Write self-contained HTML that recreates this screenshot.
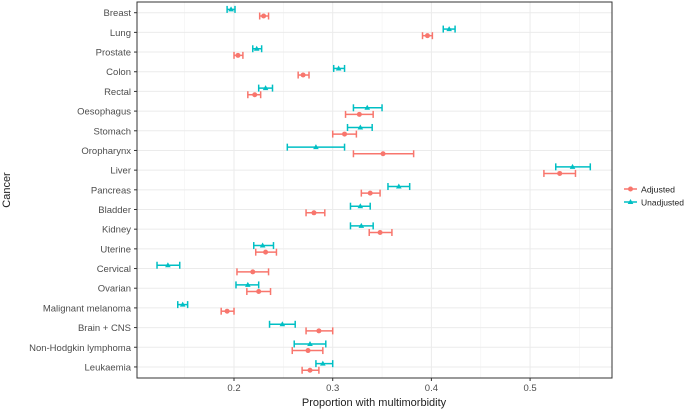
<!DOCTYPE html>
<html><head><meta charset="utf-8"><style>
html,body{margin:0;padding:0;background:#fff;}
svg{display:block;font-family:"Liberation Sans",Arial,sans-serif;}
</style></head><body>
<svg id="chart" width="685" height="412">
<g id="grid"></g>
<g id="marks"></g>
<g id="axes"></g>
<rect x="137" y="2" width="475" height="376" fill="none" stroke="#333" stroke-width="1"/>
<text x="374" y="406" font-size="11" text-anchor="middle" fill="#222">Proportion with multimorbidity</text>
<text x="0" y="0" font-size="11" text-anchor="middle" fill="#222" transform="translate(10,190) rotate(-90)">Cancer</text>
<g>
<line x1="624" y1="189" x2="637" y2="189" stroke="#F8766D" stroke-width="1.5"/><circle cx="630.5" cy="189" r="2.5" fill="#F8766D"/>
<text x="641" y="192.5" font-size="8.5" fill="#222" textLength="34" lengthAdjust="spacingAndGlyphs">Adjusted</text></g>
<g>
<line x1="624" y1="202" x2="637" y2="202" stroke="#00BFC4" stroke-width="1.5"/><path d="M630.5,199 L633.3,204 L627.7,204 Z" fill="#00BFC4"/>
<text x="641" y="205.5" font-size="8.5" fill="#222" textLength="43" lengthAdjust="spacingAndGlyphs">Unadjusted</text></g>
</svg>
<script>
const categories=["Breast","Lung","Prostate","Colon","Rectal","Oesophagus","Stomach","Oropharynx","Liver","Pancreas","Bladder","Kidney","Uterine","Cervical","Ovarian","Malignant melanoma","Brain + CNS","Non-Hodgkin lymphoma","Leukaemia"];
const unadjEst=[0.197,0.418,0.223,0.306,0.232,0.335,0.328,0.283,0.543,0.367,0.328,0.329,0.229,0.133,0.214,0.148,0.249,0.277,0.290];
const unadjLo=[0.193,0.412,0.219,0.301,0.225,0.321,0.315,0.254,0.526,0.356,0.318,0.318,0.220,0.122,0.202,0.143,0.236,0.261,0.283];
const unadjHi=[0.201,0.424,0.228,0.312,0.239,0.350,0.340,0.312,0.561,0.378,0.338,0.341,0.240,0.145,0.225,0.153,0.262,0.293,0.300];
const adjEst=[0.230,0.396,0.204,0.270,0.221,0.327,0.312,0.351,0.530,0.338,0.281,0.348,0.232,0.219,0.225,0.193,0.286,0.275,0.277];
const adjLo=[0.226,0.391,0.200,0.265,0.214,0.313,0.300,0.321,0.514,0.329,0.273,0.337,0.222,0.203,0.213,0.187,0.273,0.259,0.269];
const adjHi=[0.235,0.401,0.209,0.276,0.227,0.341,0.324,0.382,0.546,0.348,0.292,0.360,0.243,0.235,0.237,0.200,0.300,0.290,0.286];
const xTicks=[0.2,0.3,0.4,0.5];
const xMinor=[0.15,0.25,0.35,0.45,0.55];
const NS="http://www.w3.org/2000/svg";
const L=137,R=612,T=2,B=378,X0=0.1017,X1=0.5830;
function xs(v){return L+(v-X0)/(X1-X0)*(R-L);}
function ys(i){return 12.7+i*19.68;}
function mk(tag,attrs,parent){const e=document.createElementNS(NS,tag);for(const k in attrs)e.setAttribute(k,attrs[k]);parent.appendChild(e);return e;}
const grid=document.getElementById('grid'),marks=document.getElementById('marks'),axes=document.getElementById('axes');
xMinor.forEach(v=>{const x=xs(v);if(x>L&&x<R){const l=mk('line',{x1:x,x2:x,y1:T,y2:B,stroke:'#f2f2f2','stroke-width':0.6},grid);

}});
xTicks.forEach(v=>{const x=xs(v);const l=mk('line',{x1:x,x2:x,y1:T,y2:B,stroke:'#ebebeb','stroke-width':1},grid);


const t=mk('line',{x1:x,x2:x,y1:B,y2:B+3,stroke:'#333'},axes);


const tx=mk('text',{x:x,y:B+13,'font-size':9.5,'text-anchor':'middle',fill:'#4d4d4d'},axes);tx.textContent=v.toFixed(1);

});
categories.forEach((c,i)=>{const y=ys(i);
const g=mk('line',{x1:L,x2:R,y1:y,y2:y,stroke:'#ebebeb','stroke-width':1},grid);


const t=mk('line',{x1:L-3,x2:L,y1:y,y2:y,stroke:'#333'},axes);


const tx=mk('text',{x:L-6,y:y+3.5,'font-size':9.5,'text-anchor':'end',fill:'#4d4d4d'},axes);tx.textContent=c;

});
function series(est,lo,hi,col,dy,shape,name){
est.forEach((v,i)=>{const y=ys(i)+dy;const g=mk('g',{},marks);


const a=xs(lo[i]),b=xs(hi[i]);
mk('line',{x1:a,x2:b,y1:y,y2:y,stroke:col,'stroke-width':1.5},g);
mk('line',{x1:a,x2:a,y1:y-3.5,y2:y+3.5,stroke:col,'stroke-width':1.5},g);
mk('line',{x1:b,x2:b,y1:y-3.5,y2:y+3.5,stroke:col,'stroke-width':1.5},g);
const x=xs(v);
if(shape==='c')mk('circle',{cx:x,cy:y,r:2.5,fill:col},g);
else mk('path',{d:`M${x},${y-3} L${x+2.8},${y+2} L${x-2.8},${y+2} Z`,fill:col},g);});}
series(adjEst,adjLo,adjHi,'#F8766D',3.3,'c','adjusted');
series(unadjEst,unadjLo,unadjHi,'#00BFC4',-3.3,'t','unadjusted');
</script>
</body></html>
